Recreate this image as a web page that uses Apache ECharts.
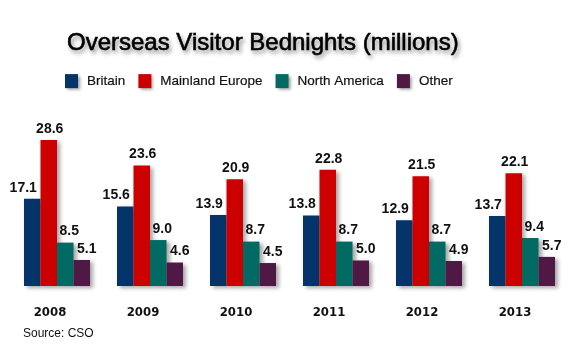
<!DOCTYPE html>
<html>
<head>
<meta charset="utf-8">
<script src="https://cdn.jsdelivr.net/npm/echarts@6/dist/echarts.min.js"></script>
<style>html,body{margin:0;padding:0;background:#fff;}#c{width:580px;height:364px;}</style>
</head>
<body>
<div id="c"></div>
<script>
var years = ['2008', '2009', '2010', '2011', '2012', '2013'];
var seriesNames = ['Britain', 'Mainland Europe', 'North America', 'Other'];
var britain = [17.1, 15.6, 13.9, 13.8, 12.9, 13.7];
var mainlandEurope = [28.6, 23.6, 20.9, 22.8, 21.5, 22.1];
var northAmerica = [8.5, 9.0, 8.7, 8.7, 8.7, 9.4];
var other = [5.1, 4.6, 4.5, 5.0, 4.9, 5.7];

var colors = ['#05346a', '#cc0000', '#006a63', '#4f1845'];
var labelOffsets = [[-9, 0], [1, 0], [4, 0], [5, 0]];
var values = [britain, mainlandEurope, northAmerica, other];

var chart = echarts.init(document.getElementById('c'));
var series = seriesNames.map(function (name, i) {
  return {
    name: name,
    type: 'bar',
    data: values[i],
    barGap: '0%',
    barCategoryGap: '29%',
    itemStyle: {
      color: colors[i],
      shadowColor: 'rgba(0,0,0,0.35)',
      shadowBlur: 4,
      shadowOffsetX: 3,
      shadowOffsetY: 2
    },
    label: {
      show: true,
      position: 'top',
      distance: 4,
      offset: labelOffsets[i],
      fontFamily: 'Liberation Sans, Arial, sans-serif',
      fontWeight: 'bold',
      fontSize: 14,
      color: '#111',
      formatter: function (p) { return p.value.toFixed(1); }
    }
  };
});

chart.setOption({
  animation: false,
  backgroundColor: '#fff',
  color: colors,
  title: {
    text: 'Overseas Visitor Bednights (millions)',
    left: 62,
    top: 26,
    textStyle: {
      fontFamily: 'Liberation Sans, Arial, sans-serif',
      fontSize: 24,
      fontWeight: 'normal',
      color: '#000',
      textBorderColor: '#000',
      textBorderWidth: 0.6,
      textShadowColor: 'rgba(0,0,0,0.35)',
      textShadowBlur: 4,
      textShadowOffsetX: 2,
      textShadowOffsetY: 3
    }
  },
  legend: {
    data: seriesNames,
    left: 60,
    top: 69,
    icon: 'rect',
    itemWidth: 13,
    itemHeight: 14,
    itemGap: 13,
    itemStyle: {
      shadowColor: 'rgba(0,0,0,0.4)',
      shadowBlur: 3,
      shadowOffsetX: 2,
      shadowOffsetY: 2
    },
    textStyle: {
      fontFamily: 'Liberation Sans, Arial, sans-serif',
      fontSize: 13.5,
      color: '#111',
      textBorderColor: '#111',
      textBorderWidth: 0.2,
      padding: [0, 0, 0, 4]
    }
  },
  grid: {
    left: 10.5,
    width: 558,
    bottom: 78,
    top: 132.9,
    containLabel: false
  },
  xAxis: {
    type: 'category',
    data: years,
    axisLine: { show: false },
    axisTick: { show: false },
    axisLabel: {
      margin: 20,
      padding: [0, 14, 0, 0],
      fontFamily: 'DejaVu Sans Condensed, DejaVu Sans, sans-serif',
      fontWeight: 'bold',
      fontSize: 13,
      color: '#111'
    }
  },
  yAxis: {
    type: 'value',
    min: 0,
    max: 30,
    show: false,
    splitLine: { show: false }
  },
  graphic: [{
    type: 'text',
    left: 23,
    top: 328,
    style: {
      text: 'Source: CSO',
      font: '12px "Liberation Sans", Arial, sans-serif',
      fill: '#111'
    }
  }],
  series: series
});
</script>
</body>
</html>
